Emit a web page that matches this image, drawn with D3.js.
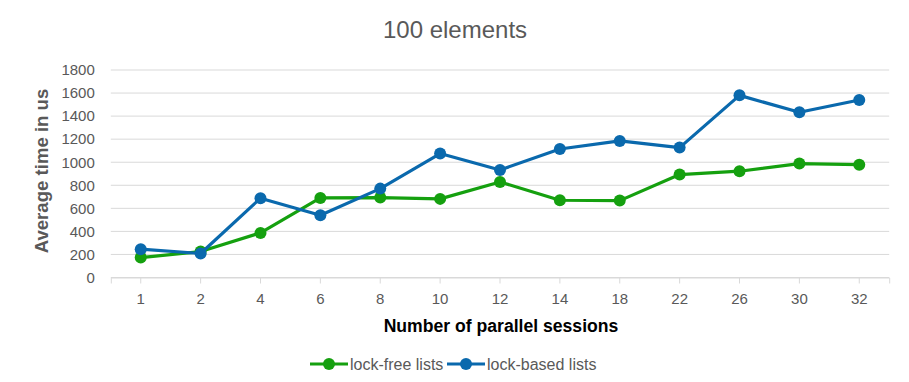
<!DOCTYPE html>
<html><head><meta charset="utf-8">
<script src="https://cdn.jsdelivr.net/npm/d3@7"></script>
<style>body{margin:0;background:#fff;} svg{display:block;font-family:"Liberation Sans",Arial,sans-serif;}</style>
</head><body>
<svg id="c" width="909" height="382"></svg>
<script>
const categories = ["1","2","4","6","8","10","12","14","18","22","26","30","32"];
const lockFree  = [173,225,387,690,693,682,829,670,667,893,922,988,979];
const lockBased = [246,208,688,540,771,1075,933,1115,1185,1127,1580,1433,1540];
const yTicks = [0,200,400,600,800,1000,1200,1400,1600,1800];
const seriesNames = ["lock-free lists","lock-based lists"];
const colors = ["#15a00f","#0a69ad"];

const svg = d3.select("#c");
const m = {left:110.8, right:889.2, top:70, bottom:277.5};
const x = d3.scaleBand().domain(categories).range([m.left, m.right]);
const y = d3.scaleLinear().domain([0,1800]).range([m.bottom, m.top]);

// grid
svg.append("g").selectAll("line").data(yTicks).join("line")
  .attr("x1", m.left).attr("x2", m.right)
  .attr("y1", d=>y(d)).attr("y2", d=>y(d))
  .attr("stroke","#d9d9d9").attr("stroke-width",1);

// y axis labels
const ya = svg.append("g").attr("transform",`translate(${m.left},0)`)
  .call(d3.axisLeft(y).tickValues(yTicks).tickFormat(d3.format("d")).tickSize(0).tickPadding(16));
ya.select(".domain").remove();
ya.selectAll("text").attr("font-size",15).attr("fill","#595959").attr("font-family","Liberation Sans, Arial, sans-serif");

// x axis
const xa = svg.append("g").attr("transform",`translate(0,${m.bottom})`)
  .call(d3.axisBottom(x).tickSize(6).tickPadding(10));
xa.select(".domain").attr("stroke","#d9d9d9");
xa.selectAll(".tick line").attr("stroke","#d9d9d9");
xa.selectAll("text").attr("font-size",15).attr("fill","#595959").attr("font-family","Liberation Sans, Arial, sans-serif");

// lines
const series = [lockFree, lockBased];
const line = d3.line().x((d,i)=>x(categories[i])+x.bandwidth()/2).y(d=>y(d));
series.forEach((s,k)=>{
  svg.append("path").datum(s).attr("d",line).attr("fill","none")
    .attr("stroke",colors[k]).attr("stroke-width",3.2).attr("stroke-linejoin","round");
  svg.append("g").selectAll("circle").data(s).join("circle")
    .attr("cx",(d,i)=>x(categories[i])+x.bandwidth()/2).attr("cy",d=>y(d))
    .attr("r",6).attr("fill",colors[k]);
});

// title
svg.append("text").attr("x",455).attr("y",38).attr("text-anchor","middle")
  .attr("font-size",24).attr("fill","#595959").text("100 elements");

// axis titles
svg.append("text").attr("x",501).attr("y",332).attr("text-anchor","middle")
  .attr("font-size",17.6).attr("font-weight","bold").attr("fill","#000").text("Number of parallel sessions");
svg.append("text").attr("transform","translate(48,171) rotate(-90)").attr("text-anchor","middle")
  .attr("font-size",18.6).attr("font-weight","bold").attr("fill","#595959").text("Average time in us");

// legend
const lg = svg.append("g");
const items = [{x:310, tx:350},{x:447, tx:487}];
items.forEach((it,k)=>{
  lg.append("line").attr("x1",it.x).attr("x2",it.x+38).attr("y1",364).attr("y2",364)
    .attr("stroke",colors[k]).attr("stroke-width",3.2);
  lg.append("circle").attr("cx",it.x+19).attr("cy",364).attr("r",6).attr("fill",colors[k]);
  lg.append("text").attr("x",it.tx).attr("y",369.5).attr("font-size",16).attr("fill","#595959").text(seriesNames[k]);
});
</script>
</body></html>
